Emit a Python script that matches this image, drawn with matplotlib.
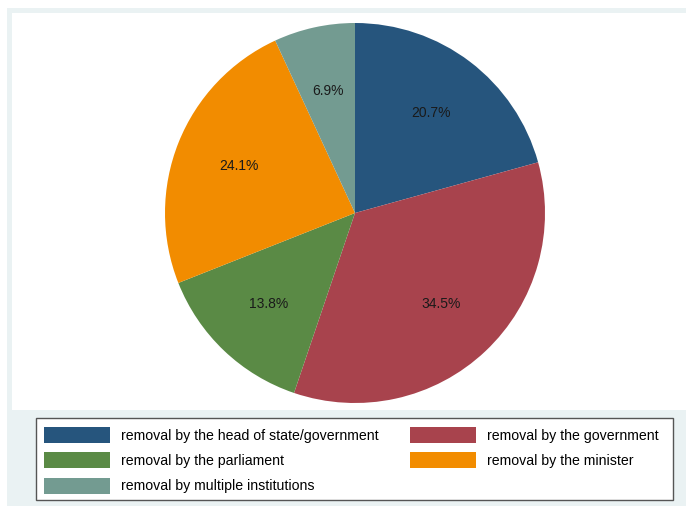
"""Pie chart of minister removal by institution, with a boxed legend below

"""

import matplotlib.pyplot as plt
from matplotlib.patches import Rectangle

W, H = 686, 507

labels = ['removal by the head of state/government',
          'removal by the government',
          'removal by the parliament',
          'removal by the minister',
          'removal by multiple institutions']
shares = [20.7, 34.5, 13.8, 24.1, 6.9]
colors = ['#26557d', '#a8434d', '#5a8a45', '#f28c00', '#739b91']

plt.rcParams['font.family'] = ['Liberation Sans', 'DejaVu Sans']

fig = plt.figure(figsize=(W / 100, H / 100), dpi=100)
fig.patch.set_facecolor('white')


def px_rect(x0, y0, x1, y1, **kw):
    """Rectangle given in pixel coords measured from top-left"""
    return Rectangle((x0 / W, 1 - y1 / H), (x1 - x0) / W, (y1 - y0) / H,
                     transform=fig.transFigure, **kw)


# outer graph region and the white plot region inside it
fig.patches.append(px_rect(7, 8, 686, 506, facecolor='#eaf2f3',
                           edgecolor='none', zorder=-2))
fig.patches.append(px_rect(12, 13, 686, 410, facecolor='white',
                           edgecolor='none', zorder=-1))

# pie centred at (355, 213) px with radius 190 px
cx, cy, r = 355, 213, 190
ax = fig.add_axes([(cx - r) / W, 1 - (cy + r) / H, 2 * r / W, 2 * r / H])
wedges, texts, autotexts = ax.pie(
    shares, colors=colors, startangle=90, counterclock=False,
    autopct='%.1f%%', pctdistance=0.66,
    wedgeprops=dict(edgecolor='none', linewidth=0),
    textprops=dict(fontsize=10, color='#1a1a1a'))
ax.set_xlim(-1, 1)
ax.set_ylim(-1, 1)
ax.set_aspect('equal')
ax.patch.set_alpha(0)

# legend box
fig.patches.append(px_rect(36, 418, 673, 500, facecolor='white',
                           edgecolor='#555555', linewidth=1.0, zorder=1))

# row-wise order: fill columns so rows read head/government, parliament/minister
order = [0, 2, 4, 1, 3]
leg = fig.legend([wedges[i] for i in order], [labels[i] for i in order],
                 ncol=2, loc='upper left',
                 bbox_to_anchor=(44 / W, 1 - 427 / H),
                 frameon=False, fontsize=10.2,
                 borderpad=0, borderaxespad=0,
                 handlelength=4.65, handleheight=1.36,
                 handletextpad=0.77, labelspacing=0.66,
                 columnspacing=2.25)
leg.set_zorder(2)

fig.savefig('out.png', dpi=100, facecolor=fig.get_facecolor())
